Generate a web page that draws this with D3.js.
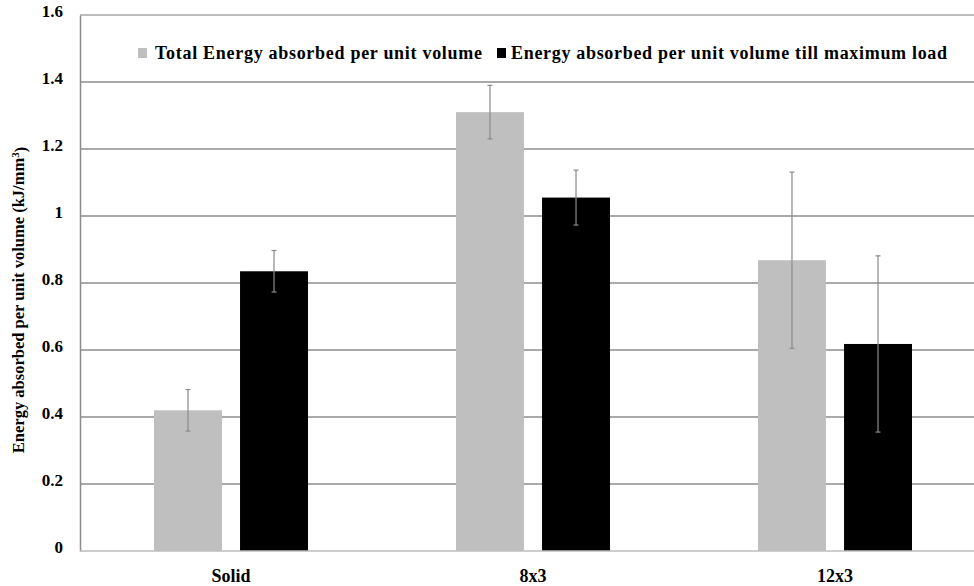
<!DOCTYPE html>
<html>
<head>
<meta charset="utf-8">
<script src="https://cdn.jsdelivr.net/npm/d3@7/dist/d3.min.js"></script>
<style>
  html, body { margin: 0; padding: 0; background: #fff; }
  svg { display: block; }
  svg text { font-family: "Liberation Serif", "DejaVu Serif", "Noto Serif", "Nimbus Roman", "FreeSerif", "Times New Roman", serif !important; font-weight: bold; fill: #000; }
</style>
</head>
<body>
<svg id="chart" width="974" height="586"></svg>
<script>
// Specimen groups and the two measured quantities (kJ/mm^3)
const categories = ["Solid", "8x3", "12x3"];
const seriesNames = ["Total Energy absorbed per unit volume", "Energy absorbed per unit volume till maximum load"];
const totalEnergy = [0.42, 1.31, 0.868];
const totalEnergyErr = [0.062, 0.08, 0.263];
const maxLoadEnergy = [0.835, 1.055, 0.618];
const maxLoadEnergyErr = [0.062, 0.082, 0.263];
const yTicks = [0, 0.2, 0.4, 0.6, 0.8, 1, 1.2, 1.4, 1.6];
const seriesColors = ["#bfbfbf", "#000000"];

(function () {
const svg = d3.select("#chart");
const plotLeft = 80, plotRight = 986, plotTop = 15, plotBottom = 551;

const x = d3.scaleBand().domain(categories).range([plotLeft, plotRight]);
const x1 = d3.scaleBand().domain([0, 1]).range([0, x.bandwidth()]).paddingInner(0.21).paddingOuter(0.86);
const y = d3.scaleLinear().domain([0, 1.6]).range([plotBottom, plotTop]);

// Horizontal gridlines
svg.append("g")
  .selectAll("line")
  .data(yTicks.filter(d => d > 0))
  .join("line")
  .attr("x1", plotLeft).attr("x2", plotRight)
  .attr("y1", d => y(d)).attr("y2", d => y(d))
  .attr("stroke", d => d === 1.6 ? "#a6a6a6" : "#8c8c8c").attr("stroke-width", 1.5);

// Y axis
const yAxis = svg.append("g")
  .attr("transform", `translate(${plotLeft},0)`)
  .call(d3.axisLeft(y).tickValues(yTicks).tickSize(0).tickPadding(17).tickFormat(d => d3.format("~g")(d)));
yAxis.attr("font-family", null).attr("font-size", null);
yAxis.select(".domain").attr("stroke", "#8c8c8c").attr("stroke-width", 1.5);
yAxis.selectAll("text").style("font-size", "17px").attr("dy", "0.1em").attr("fill", "#000");

// Bars grouped per category
const rows = categories.map((c, i) => ({
  cat: c,
  vals: [
    { s: 0, v: totalEnergy[i], e: totalEnergyErr[i] },
    { s: 1, v: maxLoadEnergy[i], e: maxLoadEnergyErr[i] }
  ]
}));

const groups = svg.append("g")
  .selectAll("g")
  .data(rows)
  .join("g")
  .attr("transform", d => `translate(${x(d.cat)},0)`);

groups.selectAll("rect")
  .data(d => d.vals)
  .join("rect")
  .attr("x", d => x1(d.s))
  .attr("width", x1.bandwidth())
  .attr("y", d => y(d.v))
  .attr("height", d => y(0) - y(d.v))
  .attr("fill", d => seriesColors[d.s]);

// Error bars
const err = groups.selectAll("g.err")
  .data(d => d.vals)
  .join("g")
  .attr("class", "err")
  .attr("stroke", "#8a8a8a")
  .attr("stroke-width", 1.2);
err.append("line")
  .attr("x1", d => x1(d.s) + x1.bandwidth() / 2)
  .attr("x2", d => x1(d.s) + x1.bandwidth() / 2)
  .attr("y1", d => y(d.v + d.e))
  .attr("y2", d => y(d.v - d.e));
[1, -1].forEach(sign => {
  err.append("line")
    .attr("x1", d => x1(d.s) + x1.bandwidth() / 2 - 2.5)
    .attr("x2", d => x1(d.s) + x1.bandwidth() / 2 + 2.5)
    .attr("y1", d => y(d.v + sign * d.e))
    .attr("y2", d => y(d.v + sign * d.e));
});

// X axis baseline and category labels
svg.append("line")
  .attr("x1", plotLeft).attr("x2", plotRight)
  .attr("y1", y(0)).attr("y2", y(0))
  .attr("stroke", "#bdbdbd").attr("stroke-width", 1.5);
svg.append("g")
  .selectAll("text")
  .data(categories)
  .join("text")
  .attr("x", d => x(d) + x.bandwidth() / 2)
  .attr("y", 582)
  .attr("text-anchor", "middle")
  .style("font-size", "18px")
  .text(d => d);

// Y axis title
svg.append("text")
  .attr("transform", "translate(24,300) rotate(-90)")
  .attr("text-anchor", "middle")
  .style("font-size", "16.5px")
  .call(t => {
    t.append("tspan").text("Energy absorbed per unit volume (kJ/mm");
    t.append("tspan").attr("dy", "-0.45em").style("font-size", "11px").text("3");
    t.append("tspan").attr("dy", "0.45em").text(")");
  });

// Legend
const legendX = [138, 497];
const legendTextX = [155, 511];
const legendWidths = [327, 436];
const legend = svg.append("g")
  .selectAll("g")
  .data(seriesNames)
  .join("g")
  .attr("transform", "translate(0,48)");
legend.append("rect")
  .attr("x", (d, i) => legendX[i])
  .attr("width", 9).attr("height", 10)
  .attr("fill", (d, i) => seriesColors[i]);
legend.append("text")
  .attr("x", (d, i) => legendTextX[i]).attr("y", 11)
  .attr("textLength", (d, i) => legendWidths[i])
  .attr("lengthAdjust", "spacing")
  .style("font-size", "18px")
  .text(d => d);
})();
</script>
</body>
</html>
